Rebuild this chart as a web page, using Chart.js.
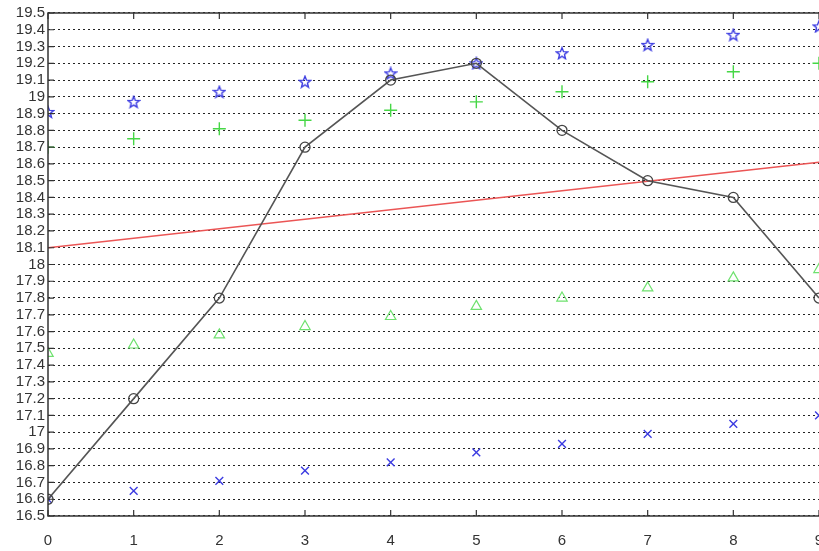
<!DOCTYPE html>
<html>
<head>
<meta charset="utf-8">
<script src="https://cdn.jsdelivr.net/npm/chart.js@4/dist/chart.umd.min.js"></script>
<style>
  html, body { margin: 0; padding: 0; background: #fff; }
  #wrap { width: 819px; height: 551px; }
</style>
</head>
<body>
<div id="wrap"><canvas id="chart" width="819" height="551"></canvas></div>
<script>
// values
const xValues = [0, 1, 2, 3, 4, 5, 6, 7, 8, 9];
const measured = [16.6, 17.2, 17.8, 18.7, 19.1, 19.2, 18.8, 18.5, 18.4, 17.8];
const upperStar = [18.91, 18.97, 19.03, 19.09, 19.14, 19.2, 19.26, 19.31, 19.37, 19.42];
const upperPlus = [18.7, 18.75, 18.81, 18.86, 18.92, 18.97, 19.03, 19.09, 19.15, 19.2];
const lowerTri = [17.47, 17.52, 17.58, 17.63, 17.69, 17.75, 17.8, 17.86, 17.92, 17.97];
const lowerCross = [16.6, 16.65, 16.71, 16.77, 16.82, 16.88, 16.93, 16.99, 17.05, 17.1];
const trendX = [0, 9];
const trendY = [18.1, 18.61];
const yMin = 16.5, yMax = 19.5, yStep = 0.1;

function pts(ys, xs) {
  xs = xs || xValues;
  return ys.map((y, i) => ({ x: xs[i], y: y }));
}

// pentagram marker like matlab 'p'
function makeStar(color) {
  const c = document.createElement('canvas');
  c.width = 14; c.height = 14;
  const g = c.getContext('2d');
  g.strokeStyle = color;
  g.lineWidth = 1.4;
  g.beginPath();
  for (let i = 0; i < 10; i++) {
    const r = i % 2 === 0 ? 6 : 2.6;
    const a = -Math.PI / 2 + i * Math.PI / 5;
    const px = 7 + r * Math.cos(a), py = 7.5 + r * Math.sin(a);
    if (i === 0) g.moveTo(px, py); else g.lineTo(px, py);
  }
  g.closePath();
  g.stroke();
  return c;
}

const blue = 'rgb(60,60,225)';
const green = 'rgb(70,215,70)';
const lightGreen = 'rgb(110,225,110)';

// frame + inward tick marks
const framePlugin = {
  id: 'frame',
  afterDraw(chart) {
    const { ctx, chartArea: a, scales } = chart;
    ctx.save();
    ctx.strokeStyle = '#333';
    ctx.lineWidth = 1.5;
    ctx.beginPath();
    ctx.moveTo(a.right + 5, a.top); ctx.lineTo(a.left, a.top);
    ctx.lineTo(a.left, a.bottom); ctx.lineTo(a.right + 5, a.bottom);
    ctx.stroke();
    ctx.lineWidth = 1.2;
    ctx.beginPath();
    scales.x.ticks.forEach(t => {
      const px = scales.x.getPixelForValue(t.value);
      ctx.moveTo(px, a.bottom); ctx.lineTo(px, a.bottom - 6);
      ctx.moveTo(px, a.top); ctx.lineTo(px, a.top + 6);
    });
    scales.y.ticks.forEach(t => {
      const py = scales.y.getPixelForValue(t.value);
      ctx.moveTo(a.left, py); ctx.lineTo(a.left + 6, py);
    });
    ctx.stroke();
    ctx.restore();
  }
};

new Chart(document.getElementById('chart'), {
  type: 'scatter',
  data: {
    datasets: [
      {
        data: pts(trendY, trendX), showLine: true, borderColor: 'rgb(235,85,85)',
        borderWidth: 1.4, pointRadius: 0, order: 5
      },
      {
        data: pts(measured), showLine: true, borderColor: '#555', borderWidth: 1.6,
        pointStyle: 'circle', pointRadius: 5, pointBorderColor: '#444',
        pointBackgroundColor: 'rgba(0,0,0,0)', pointBorderWidth: 1.3, order: 1
      },
      {
        data: pts(upperStar), pointStyle: makeStar(blue), order: 2
      },
      {
        data: pts(upperPlus), pointStyle: 'cross', pointRadius: 6.5,
        pointBorderColor: green, pointBorderWidth: 1.4, order: 3
      },
      {
        data: pts(lowerTri), pointStyle: 'triangle', pointRadius: 6,
        pointBorderColor: lightGreen, pointBackgroundColor: 'rgba(0,0,0,0)',
        pointBorderWidth: 1.2, order: 4
      },
      {
        data: pts(lowerCross), pointStyle: 'crossRot', pointRadius: 5.5,
        pointBorderColor: blue, pointBorderWidth: 1.4, order: 4
      }
    ]
  },
  options: {
    responsive: false,
    animation: false,
    events: [],
    layout: { autoPadding: false, padding: { top: 13, right: 0, left: 0, bottom: 0 } },
    plugins: { legend: { display: false }, tooltip: { enabled: false } },
    scales: {
      x: {
        type: 'linear', min: 0, max: 9,
        afterFit(s) { s.height = 35; s.paddingRight = 0; },
        border: { display: false },
        grid: { display: false },
        ticks: { stepSize: 1, autoSkip: false, padding: 8, color: '#333', font: { family: 'Liberation Sans', size: 15 } }
      },
      y: {
        min: yMin, max: yMax,
        afterFit(s) { s.width = 48; },
        border: { display: false, dash: [2, 3] },
        grid: { drawTicks: false, color: '#222', lineWidth: 1.1 },
        ticks: {
          stepSize: yStep, autoSkip: false, padding: 3, color: '#333',
          font: { family: 'Liberation Sans', size: 15 },
          callback: v => String(Number(v.toFixed(1)))
        }
      }
    }
  },
  plugins: [framePlugin]
});
</script>
</body>
</html>
